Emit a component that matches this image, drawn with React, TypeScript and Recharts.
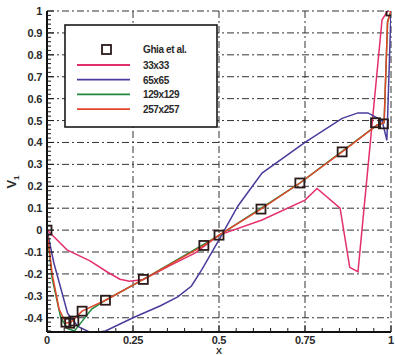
import { CartesianGrid, Line, LineChart, XAxis, YAxis } from 'recharts';

// Vertical velocity along the horizontal centreline, four grids plus reference points
const ghiaX = [0, 0.055, 0.066, 0.078, 0.102, 0.17, 0.28, 0.456, 0.5, 0.622, 0.735, 0.858, 0.955, 0.978, 1];
const ghiaV = [0, -0.42, -0.425, -0.415, -0.37, -0.32, -0.225, -0.07, -0.023, 0.096, 0.215, 0.357, 0.49, 0.485, 1];

const g33X = [0, 0.01, 0.058, 0.125, 0.174, 0.212, 0.24, 0.28, 0.36, 0.43, 0.5, 0.625, 0.75, 0.785, 0.852, 0.88, 0.904, 0.974, 0.99, 1];
const g33V = [0, -0.014, -0.09, -0.14, -0.19, -0.224, -0.233, -0.225, -0.16, -0.105, -0.023, 0.046, 0.137, 0.19, 0.1, -0.17, -0.19, 0.96, 1, 1];

const g65X = [0, 0.02, 0.06, 0.09, 0.13, 0.17, 0.25, 0.33, 0.38, 0.42, 0.45, 0.5, 0.555, 0.625, 0.75, 0.858, 0.904, 0.933, 0.974, 0.988, 1];
const g65V = [0, -0.15, -0.38, -0.44, -0.47, -0.46, -0.4, -0.345, -0.305, -0.255, -0.18, -0.045, 0.11, 0.26, 0.4, 0.51, 0.535, 0.535, 0.5, 0.41, 1];

const g129X = [0, 0.015, 0.04, 0.06, 0.08, 0.1, 0.13, 0.17, 0.28, 0.5, 0.735, 0.96, 0.98, 0.99, 1];
const g129V = [0, -0.22, -0.4, -0.45, -0.46, -0.42, -0.36, -0.32, -0.225, -0.024, 0.214, 0.48, 0.49, 0.95, 1];

const g257X = [0, 0.015, 0.035, 0.055, 0.07, 0.102, 0.17, 0.28, 0.456, 0.5, 0.622, 0.735, 0.858, 0.96, 0.98, 0.99, 1];
const g257V = [0, -0.2, -0.36, -0.425, -0.42, -0.37, -0.32, -0.225, -0.07, -0.023, 0.096, 0.215, 0.357, 0.48, 0.49, 0.95, 1];

const seriesNames = ['Ghia et al.', '33x33', '65x65', '129x129', '257x257'];
const seriesColors = ['#2a1a1a', '#e3306c', '#4a3c9c', '#1f8a3e', '#e2472a'];

const yMajor = [-0.4, -0.3, -0.2, -0.1, 0, 0.1, 0.2, 0.3, 0.4, 0.5, 0.6, 0.7, 0.8, 0.9, 1];
const xMajor = [0, 0.25, 0.5, 0.75, 1];
const xGrid = [0.25, 0.5, 0.75, 1];

// minor tick positions: every 0.02 on V, every 0.05 on X
const yTicks: number[] = [];
for (let i = -23; i <= 50; i++) yTicks.push(+(i * 0.02).toFixed(2));
const xTicks: number[] = [];
for (let i = 0; i <= 20; i++) xTicks.push(+(i * 0.05).toFixed(2));

const pts = (xs: number[], vs: number[]) => xs.map((x, i) => ({ x, v: vs[i] }));

const FONT = '"Liberation Sans", Arial, sans-serif';
const isMajor = (v: number, list: number[]) => list.some((m) => Math.abs(m - v) < 1e-6);

const YTick = (props: any) => {
  const { x, y, payload } = props;
  const major = isMajor(payload.value, yMajor);
  return (
    <g>
      <line x1={x} x2={x + (major ? 7 : 4)} y1={y} y2={y} stroke="#1a1a1a" strokeWidth={1} />
      {major && (
        <text x={x - 5} y={y} dy={4} textAnchor="end" fontFamily={FONT} fontSize={11} fontWeight="bold" fill="#2a2a2a" letterSpacing={-0.3}>
          {String(payload.value)}
        </text>
      )}
    </g>
  );
};

const XTick = (props: any) => {
  const { x, y, payload } = props;
  const major = isMajor(payload.value, xMajor);
  return (
    <g>
      <line x1={x} x2={x} y1={y} y2={y - (major ? 7 : 4)} stroke="#1a1a1a" strokeWidth={1} />
      {major && (
        <text x={x} y={y} dy={12} textAnchor="middle" fontFamily={FONT} fontSize={11} fontWeight="bold" fill="#2a2a2a" letterSpacing={-0.3}>
          {String(payload.value)}
        </text>
      )}
    </g>
  );
};

const Square = (props: any) => {
  const { cx, cy } = props;
  if (cx == null || cy == null) return null;
  return <rect x={cx - 4.5} y={cy - 4.5} width={9} height={9} fill="none" stroke={seriesColors[0]} strokeWidth={1.8} />;
};

const VLabel = () => (
  <text transform="translate(16,182) rotate(-90)" textAnchor="middle" fontFamily={FONT} fontSize={13} fontWeight="bold" fill="#2a2a2a">
    V<tspan fontSize={8} dy={3}>1</tspan>
  </text>
);

const XLabel = () => (
  <text x={219} y={354} textAnchor="middle" fontFamily={FONT} fontSize={9} fontWeight="bold" fill="#2a2a2a">
    X
  </text>
);

function LegendBox() {
  const rows = [1, 2, 3, 4];
  return (
    <svg width={154} height={104} style={{ position: 'absolute', left: 64, top: 24 }}>
      <rect x={1} y={1} width={152} height={102} fill="#fff" stroke="#1a1a1a" strokeWidth={1.6} />
      <rect x={38} y={21} width={9} height={9} fill="none" stroke={seriesColors[0]} strokeWidth={1.8} />
      <text x={79} y={29} fontFamily={FONT} fontSize={10} fontWeight="bold" fill="#2a2a2a" letterSpacing={-0.4}>
        {seriesNames[0]}
      </text>
      {rows.map((r) => {
        const y = 41 + (r - 1) * 14.7;
        return (
          <g key={r}>
            <line x1={13} x2={66} y1={y} y2={y} stroke={seriesColors[r]} strokeWidth={1.8} />
            <text x={79} y={y + 4} fontFamily={FONT} fontSize={10} fontWeight="bold" fill="#2a2a2a" letterSpacing={-0.4}>
              {seriesNames[r]}
            </text>
          </g>
        );
      })}
    </svg>
  );
}

export default function App() {
  const lines = [
    { name: seriesNames[1], color: seriesColors[1], data: pts(g33X, g33V) },
    { name: seriesNames[2], color: seriesColors[2], data: pts(g65X, g65V) },
    { name: seriesNames[3], color: seriesColors[3], data: pts(g129X, g129V) },
    { name: seriesNames[4], color: seriesColors[4], data: pts(g257X, g257V) },
  ];
  return (
    <div style={{ position: 'absolute', left: 0, top: 0, width: 395, height: 355, background: '#fff' }}>
      <LineChart width={395} height={355} margin={{ top: 11, right: 4, bottom: 0, left: 0 }}>
        <CartesianGrid
          horizontalValues={yMajor}
          verticalValues={xGrid}
          stroke="#333"
          strokeDasharray="7 3 2 3"
          strokeWidth={1}
        />
        <XAxis
          type="number"
          dataKey="x"
          domain={[0, 1]}
          ticks={xTicks}
          interval={0}
          height={23}
          tickSize={0}
          tickMargin={0}
          tickLine={false}
          tick={<XTick />}
          axisLine={{ stroke: '#111', strokeWidth: 2 }}
          allowDataOverflow
          label={<XLabel />}
        />
        <YAxis
          type="number"
          domain={[-0.465, 1]}
          ticks={yTicks}
          interval={0}
          width={47}
          tickSize={0}
          tickMargin={0}
          tickLine={false}
          tick={<YTick />}
          axisLine={{ stroke: '#111', strokeWidth: 2 }}
          allowDataOverflow
          label={<VLabel />}
        />
        {lines.map((s) => (
          <Line
            key={s.name}
            data={s.data}
            dataKey="v"
            name={s.name}
            type="linear"
            stroke={s.color}
            strokeWidth={1.5}
            dot={false}
            isAnimationActive={false}
          />
        ))}
        <Line
          data={pts(ghiaX, ghiaV)}
          dataKey="v"
          name={seriesNames[0]}
          stroke="none"
          dot={<Square />}
          isAnimationActive={false}
        />
      </LineChart>
      <LegendBox />
    </div>
  );
}
